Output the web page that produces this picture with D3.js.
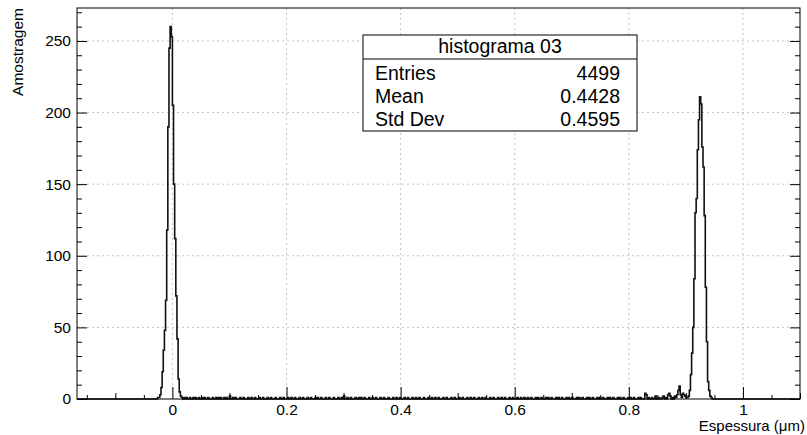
<!DOCTYPE html>
<html>
<head>
<meta charset="utf-8">
<script src="https://cdn.jsdelivr.net/npm/d3@7"></script>
<style>
  body { margin: 0; background: #fff; }
  svg { display: block; font-family: "Liberation Sans", Arial, sans-serif; }
  .grid line { stroke: #c4c4c4; stroke-dasharray: 2,3; }
  .axis path, .axis line { stroke: #000; }
  .axis text { font-size: 15.5px; fill: #000; }
</style>
</head>
<body>
<svg id="chart" width="807" height="435"></svg>
<script>
"use strict";

/* global d3 */

// binning of the histogram (micrometres)
const binWidth = 0.002;

// peak near 0: low edge of first bin, then counts per bin
const leftPeakStart = -0.026;
const leftPeakCounts = [1, 1, 3, 8, 19, 34, 48, 69, 118, 190, 245, 260, 253,
  205, 150, 112, 72, 42, 14, 5, 2, 1];

// peak near 0.925
const rightPeakStart = 0.902;
const rightPeakCounts = [1, 2, 6, 17, 32, 50, 84, 130, 140, 174, 195, 211, 206,
  176, 162, 128, 78, 40, 12, 6, 2, 1];

// sparse low counts between the peaks: [bin index (low edge / binWidth), count]
const noiseBins = [
  [10, 1], [12, 1], [15, 1], [18, 1], [20, 1], [23, 1], [26, 1], [28, 1], [31, 1], [35, 1],
  [38, 1], [40, 1], [42, 1], [45, 1], [47, 1], [50, 2], [53, 1], [55, 1], [59, 1], [62, 1],
  [66, 1], [69, 1], [72, 1], [76, 1], [79, 1], [83, 1], [86, 1], [90, 1], [94, 1], [97, 1],
  [101, 1], [104, 1], [107, 1], [111, 1], [114, 1], [118, 1], [121, 1], [125, 1], [127, 1],
  [130, 1], [134, 1], [137, 1], [141, 1], [145, 1], [148, 1], [150, 2], [153, 1], [156, 1],
  [160, 1], [163, 1], [165, 1], [168, 1], [172, 1], [175, 1], [178, 1], [182, 1], [185, 1],
  [189, 1], [193, 1], [196, 1], [199, 1], [203, 1], [206, 1], [210, 1], [213, 1], [216, 1],
  [220, 1], [224, 1], [227, 1], [230, 1], [233, 1], [237, 1], [240, 1], [244, 1], [247, 1],
  [251, 1], [254, 1], [258, 1], [261, 1], [264, 1], [268, 1], [271, 1], [274, 1], [278, 1],
  [281, 1], [285, 1], [288, 1], [291, 1], [295, 1], [298, 1], [302, 1], [305, 1], [308, 1],
  [311, 1], [314, 1], [318, 1], [320, 1], [323, 1], [327, 1], [329, 1], [332, 1], [336, 1],
  [338, 1], [341, 1], [345, 1], [347, 1], [350, 1], [354, 1], [356, 1], [359, 1], [363, 1],
  [365, 1], [368, 1], [372, 1], [374, 1], [377, 1], [381, 1], [383, 1], [386, 1], [390, 1],
  [392, 1], [395, 1], [399, 1], [401, 1], [404, 1], [408, 1], [410, 1],
  [414, 4], [415, 3], [417, 1], [420, 1], [423, 2], [426, 1], [429, 1], [430, 2], [432, 1],
  [434, 3], [435, 4], [436, 2], [438, 1], [440, 2], [441, 1], [442, 3], [443, 6], [444, 9],
  [445, 3], [446, 1], [447, 4], [448, 3], [449, 2], [450, 1]
];

const xDomain = [-0.1672, 1.1];
const yDomain = [0, 273];
const xMajor = [0, 0.2, 0.4, 0.6, 0.8, 1];
const yMajor = [0, 50, 100, 150, 200, 250];

const statsTitle = "histograma 03";
const statsLabels = ["Entries", "Mean", "Std Dev"];
const statsValues = ["4499", "0.4428", "0.4595"];

const xTitle = "Espessura (\u03bcm)";
const yTitle = "Amostragem";

let frame = { left: 77, right: 800, top: 8, bottom: 399 };

let svg = d3.select('#chart');

let x = d3.scaleLinear().domain(xDomain).range([frame.left, frame.right]);
let y = d3.scaleLinear().domain(yDomain).range([frame.bottom, frame.top]);

// build the full bin table from the arrays
let counts = new Map();
leftPeakCounts.forEach((c, i) => counts.set(Math.round(leftPeakStart / binWidth) + i, c));
rightPeakCounts.forEach((c, i) => counts.set(Math.round(rightPeakStart / binWidth) + i, c));
noiseBins.forEach(d => counts.set(d[0], d[1]));

let firstBin = Math.ceil(xDomain[0] / binWidth), lastBin = Math.floor(xDomain[1] / binWidth);
let bins = d3.range(firstBin, lastBin).map(i => ({ x0: i * binWidth, count: counts.get(i) || 0 }));

// grid
let grid = svg.append('g').attr('class', 'grid');
grid.selectAll('line.v')
  .data(xMajor)
  .join('line')
  .attr('x1', d => x(d)).attr('x2', d => x(d))
  .attr('y1', frame.top).attr('y2', frame.bottom);
grid.selectAll('line.h')
  .data(yMajor.filter(d => d > 0))
  .join('line')
  .attr('class', 'h')
  .attr('x1', frame.left).attr('x2', frame.right)
  .attr('y1', d => y(d)).attr('y2', d => y(d));

// histogram outline
let pts = bins.map(b => [x(b.x0), y(b.count)]);
pts.push([x(lastBin * binWidth), y(0)]);

svg.append('path')
  .datum(pts)
  .attr('fill', 'none')
  .attr('stroke', '#111')
  .attr('stroke-width', 1.6)
  .attr('d', d3.line().curve(d3.curveStepAfter));

// frame
svg.append('rect')
  .attr('x', frame.left).attr('y', frame.top)
  .attr('width', frame.right - frame.left)
  .attr('height', frame.bottom - frame.top)
  .attr('fill', 'none')
  .attr('stroke', '#000')
  .attr('stroke-width', 1);

let fmtX = d => d === 0 ? '0' : d3.format('~g')(d);

// x axis: majors with labels, 0.1 and 0.05 ticks
svg.append('g')
  .attr('class', 'axis')
  .attr('transform', 'translate(0,' + frame.bottom + ')')
  .call(d3.axisBottom(x).tickValues(xMajor).tickSize(-12).tickPadding(5).tickFormat(fmtX))
  .call(g => g.select('.domain').remove());

let xMid = d3.range(-0.1, 1.11, 0.2).map(v => +v.toFixed(2));
let xMinor = d3.range(-0.15, 1.11, 0.1).map(v => +v.toFixed(2));

svg.append('g')
  .attr('class', 'axis')
  .attr('transform', 'translate(0,' + frame.bottom + ')')
  .call(d3.axisBottom(x).tickValues(xMid).tickSize(-6).tickFormat(''))
  .call(g => g.select('.domain').remove());
svg.append('g')
  .attr('class', 'axis')
  .attr('transform', 'translate(0,' + frame.bottom + ')')
  .call(d3.axisBottom(x).tickValues(xMinor).tickSize(-4).tickFormat(''))
  .call(g => g.select('.domain').remove());

// y axis, left with labels, right mirrored
let yMinor = d3.range(10, 273, 10).filter(v => v % 50 !== 0);

svg.append('g')
  .attr('class', 'axis')
  .attr('transform', 'translate(' + frame.left + ',0)')
  .call(d3.axisLeft(y).tickValues(yMajor).tickSize(-10).tickPadding(6))
  .call(g => g.select('.domain').remove());
svg.append('g')
  .attr('class', 'axis')
  .attr('transform', 'translate(' + frame.left + ',0)')
  .call(d3.axisLeft(y).tickValues(yMinor).tickSize(-5).tickFormat(''))
  .call(g => g.select('.domain').remove());
svg.append('g')
  .attr('class', 'axis')
  .attr('transform', 'translate(' + frame.right + ',0)')
  .call(d3.axisRight(y).tickValues(yMajor).tickSize(-10).tickFormat(''))
  .call(g => g.select('.domain').remove());
svg.append('g')
  .attr('class', 'axis')
  .attr('transform', 'translate(' + frame.right + ',0)')
  .call(d3.axisRight(y).tickValues(yMinor).tickSize(-5).tickFormat(''))
  .call(g => g.select('.domain').remove());

// axis titles
svg.append('text')
  .attr('x', 805).attr('y', 431)
  .attr('text-anchor', 'end')
  .attr('font-size', 15)
  .text(xTitle);

svg.append('text')
  .attr('transform', 'translate(23,' + frame.top + ') rotate(-90)')
  .attr('text-anchor', 'end')
  .attr('font-size', 15.5)
  .text(yTitle);

// stats box
let box = { left: 363, right: 637, top: 35, split: 59, bottom: 131 };
let stats = svg.append('g');
stats.append('rect')
  .attr('x', box.left).attr('y', box.top)
  .attr('width', box.right - box.left)
  .attr('height', box.bottom - box.top)
  .attr('fill', '#fff')
  .attr('stroke', '#000');
stats.append('line')
  .attr('x1', box.left).attr('x2', box.right)
  .attr('y1', box.split).attr('y2', box.split)
  .attr('stroke', '#000');
stats.append('text')
  .attr('x', (box.left + box.right) / 2).attr('y', 53)
  .attr('text-anchor', 'middle')
  .attr('font-size', 19.5)
  .text(statsTitle);
statsLabels.forEach((label, i) => {
  let yy = 80 + i * 23;
  stats.append('text')
    .attr('x', box.left + 12).attr('y', yy)
    .attr('font-size', 19.5)
    .text(label);
  stats.append('text')
    .attr('x', box.right - 17).attr('y', yy)
    .attr('text-anchor', 'end')
    .attr('font-size', 19.5)
    .text(statsValues[i]);
});
</script>
</body>
</html>
